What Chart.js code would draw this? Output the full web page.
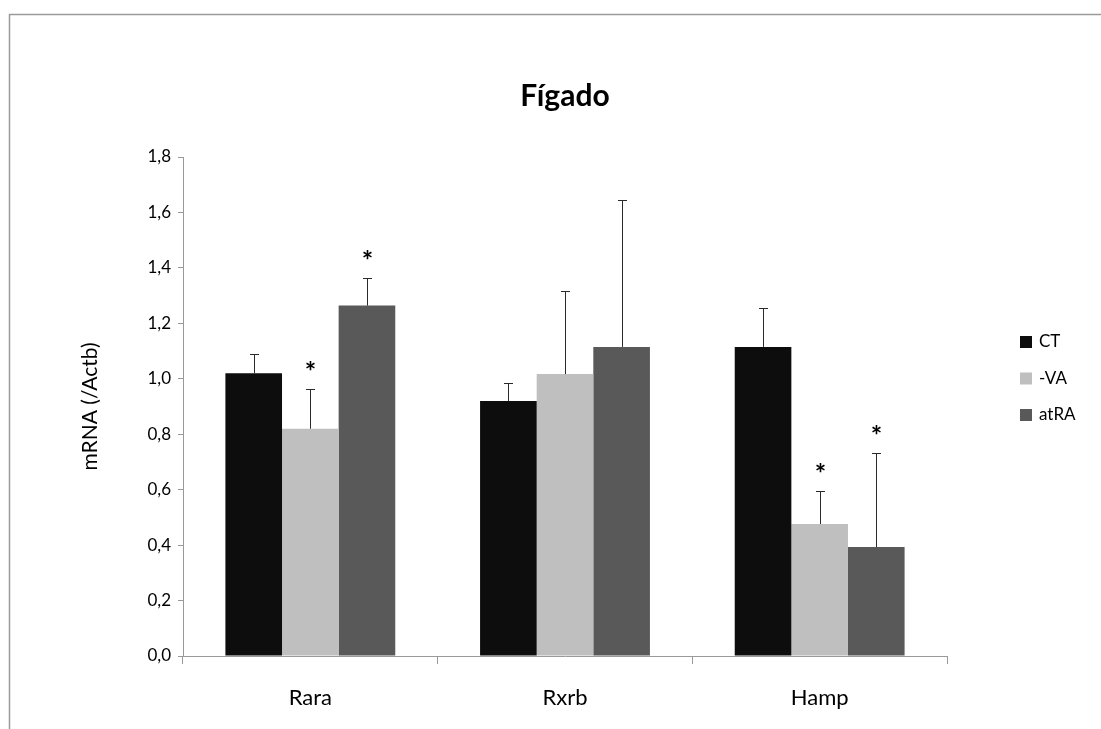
<!DOCTYPE html>
<html>
<head>
<meta charset="utf-8">
<script src="https://cdn.jsdelivr.net/npm/chart.js@4"></script>
<style>
  html, body { margin: 0; padding: 0; background: #fff; }
  #wrap { width: 1101px; height: 729px; position: relative; }
</style>
</head>
<body>
<div id="wrap"><canvas id="chart" width="1101" height="729"></canvas></div>
<script>
const CATEGORIES = ['Rara', 'Rxrb', 'Hamp'];

const SERIES_LABELS = ['CT', '-VA', 'atRA'];
const CT_VALUES   = [1.02, 0.92, 1.115];
const VA_VALUES   = [0.82, 1.017, 0.476];
const ATRA_VALUES = [1.264, 1.115, 0.393];

// upward error (SD) for each bar
const CT_ERR   = [0.071, 0.066, 0.139];
const VA_ERR   = [0.144, 0.301, 0.118];
const ATRA_ERR = [0.099, 0.529, 0.338];

// significance stars
const CT_SIG   = [false, false, false];
const VA_SIG   = [true, false, true];
const ATRA_SIG = [true, false, true];

const Y_MIN = 0, Y_MAX = 1.8, Y_STEP = 0.2;
const TITLE = 'Fígado';
const Y_TITLE = 'mRNA (/Actb)';

const COLORS = ['#0d0d0d', '#bfbfbf', '#595959'];
const FONT = 'Lato, Carlito, "Open Sans", sans-serif';

const values = [CT_VALUES, VA_VALUES, ATRA_VALUES];
const errors = [CT_ERR, VA_ERR, ATRA_ERR];
const stars  = [CT_SIG, VA_SIG, ATRA_SIG];

const frameAndTitle = {
    id: 'frameAndTitle',
    beforeDraw(chart) {
        const ctx = chart.ctx;
        ctx.save();
        ctx.strokeStyle = '#9a9a9a';
        ctx.lineWidth = 1.5;
        ctx.beginPath();
        ctx.moveTo(9.5, 729);
        ctx.lineTo(9.5, 14.5);
        ctx.lineTo(1101, 14.5);
        ctx.stroke();
        ctx.restore();
    },
    afterDraw(chart) {
        const ctx = chart.ctx;
        const area = chart.chartArea;
        ctx.save();
        ctx.fillStyle = '#000';
        ctx.font = `bold 30px ${FONT}`;
        ctx.textAlign = 'center';
        ctx.textBaseline = 'alphabetic';
        ctx.fillText(TITLE, (area.left + area.right) / 2, 106);

        // legend
        ctx.font = `17px ${FONT}`;
        ctx.textAlign = 'left';
        ctx.textBaseline = 'middle';
        chart.data.datasets.forEach((ds, i) => {
            const y = 342 + i * 36.5;
            ctx.fillStyle = ds.backgroundColor;
            ctx.fillRect(1020, y - 6, 12, 12);
            ctx.fillStyle = '#000';
            ctx.fillText(ds.label, 1039, y);
        });
        ctx.restore();
    },
};

const errorBars = {
    id: 'errorBars',
    afterDatasetsDraw(chart) {
        const ctx = chart.ctx;
        const yScale = chart.scales.y;
        ctx.save();
        chart.data.datasets.forEach((ds, i) => {
            const meta = chart.getDatasetMeta(i);
            meta.data.forEach((bar, j) => {
                const x = Math.round(bar.x) + 0.5;
                const top = yScale.getPixelForValue(ds.data[j] + errors[i][j]);
                ctx.strokeStyle = '#2a2a2a';
                ctx.lineWidth = 1;
                ctx.beginPath();
                ctx.moveTo(x, bar.y);
                ctx.lineTo(x, Math.round(top) + 0.5);
                ctx.moveTo(x - 4.5, Math.round(top) + 0.5);
                ctx.lineTo(x + 4.5, Math.round(top) + 0.5);
                ctx.stroke();
                if (stars[i][j]) {
                    ctx.fillStyle = '#000';
                    ctx.font = `bold 27px ${FONT}`;
                    ctx.textAlign = 'center';
                    ctx.textBaseline = 'alphabetic';
                    ctx.fillText('*', x, top - 8);
                }
            });
        });
        ctx.restore();
    },
};

new Chart(document.getElementById('chart'), {
    type: 'bar',
    data: {
        labels: CATEGORIES,
        datasets: SERIES_LABELS.map((label, i) => ({
            label,
            data: values[i],
            backgroundColor: COLORS[i],
            borderWidth: 0,
            categoryPercentage: 0.667,
            barPercentage: 1.0,
        })),
    },
    options: {
        responsive: false,
        animation: false,
        events: [],
        layout: { padding: { left: 76, right: 154, top: 157, bottom: 0 } },
        plugins: {
            legend: { display: false },
            title: { display: false },
            tooltip: { enabled: false },
        },
        scales: {
            x: {
                grid: {
                    offset: true,
                    drawOnChartArea: false,
                    drawTicks: true,
                    tickLength: 8,
                    color: '#999',
                },
                border: { color: '#999', width: 1 },
                ticks: {
                    padding: 21,
                    color: '#000',
                    font: { family: FONT, size: 22 },
                },
                afterFit: s => { s.height = 73; },
            },
            y: {
                min: Y_MIN,
                max: Y_MAX,
                grid: {
                    drawOnChartArea: false,
                    tickLength: 5,
                    color: '#999',
                },
                border: { color: '#999', width: 1 },
                ticks: {
                    stepSize: Y_STEP,
                    padding: 7,
                    color: '#000',
                    font: { family: FONT, size: 17 },
                    callback: v => v.toFixed(1).replace('.', ','),
                },
                title: {
                    display: true,
                    text: Y_TITLE,
                    color: '#000',
                    font: { family: FONT, size: 21 },
                    padding: { top: 2, bottom: 4 },
                },
                afterFit: s => { s.width = 107; },
            },
        },
    },
    plugins: [frameAndTitle, errorBars],
});
</script>
</body>
</html>
